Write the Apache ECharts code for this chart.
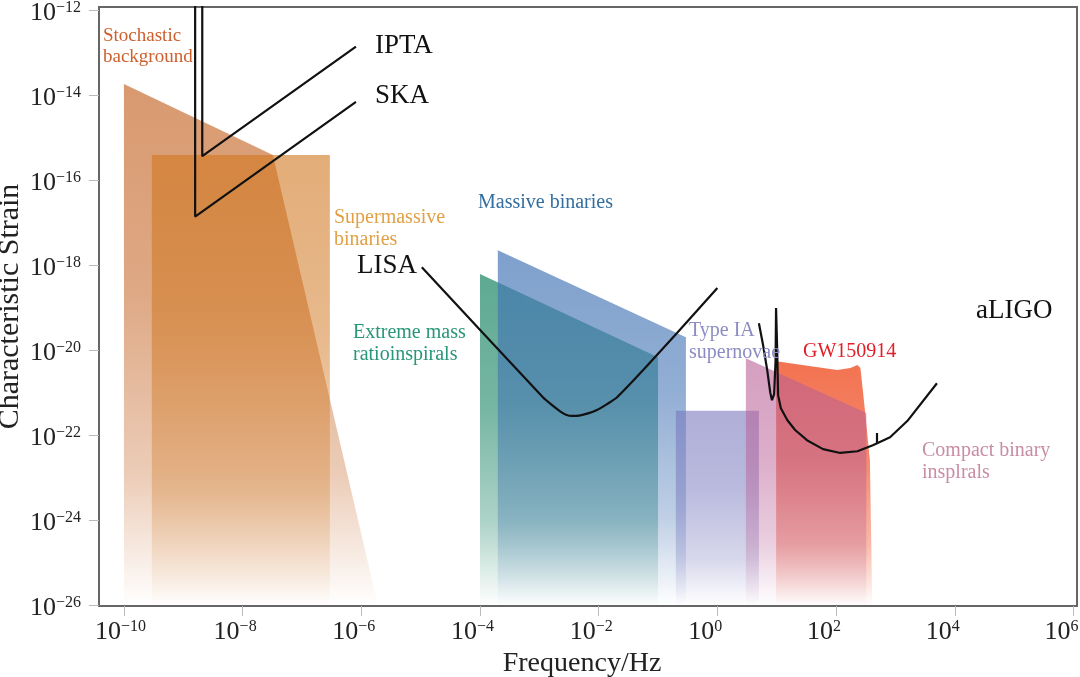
<!DOCTYPE html>
<html>
<head>
<meta charset="utf-8">
<script src="https://cdn.jsdelivr.net/npm/echarts@6.0.0/dist/echarts.min.js"></script>
<style>
html,body{margin:0;padding:0;background:#fff;}
#chart{width:1080px;height:677px;}
</style>
</head>
<body>
<div id="chart"></div>
<script>
// ---- data (log10 of frequency in Hz, log10 of characteristic strain) ----
const xTicks = [-10, -8, -6, -4, -2, 0, 2, 4, 6];
const yTicks = [-26, -24, -22, -20, -18, -16, -14, -12];

const stochastic = [[-10, -13.74], [-7.49, -15.41], [-5.72, -26]];
const supermassive = [[-9.53, -15.41], [-6.53, -15.41]];
const emri = [[-4.0, -18.21], [-1.0, -20.17]];
const massiveBinaries = [[-3.70, -17.65], [-0.53, -19.70]];
const typeIA = [[-0.70, -21.43], [0.70, -21.43]];
const compactBinary = [[0.48, -20.19], [2.51, -21.48]];
const gw150914 = [[0.99, -20.26], [2.02, -20.47], [2.24, -20.42], [2.36, -20.35], [2.41, -20.42],
                  [2.46, -21.06], [2.52, -21.88], [2.57, -22.59], [2.61, -26]];

const ipta = [[-8.68, -11.5], [-8.68, -15.44], [-6.09, -12.86]];
const ska = [[-8.80, -11.5], [-8.80, -16.86], [-6.09, -14.16]];
const lisa = [[-4.98, -18.05], [-2.94, -21.11], [-2.79, -21.29], [-2.65, -21.44], [-2.55, -21.52],
              [-2.45, -21.55], [-2.33, -21.54], [-2.18, -21.49], [-2.03, -21.41], [-1.86, -21.27],
              [-1.69, -21.11], [-1.25, -20.47], [-0.68, -19.60], [0.0, -18.54]];
const aligo = [[0.70, -19.37], [0.77, -19.88], [0.84, -20.47], [0.89, -20.99], [0.92, -21.18],
               [0.956, -21.04], [0.981, -20.24], [0.989, -19.01], [1.006, -19.88], [1.023, -21.06],
               [1.07, -21.37], [1.18, -21.65], [1.31, -21.88], [1.51, -22.12], [1.78, -22.33],
               [2.07, -22.42], [2.36, -22.38], [2.62, -22.24], [2.91, -22.05], [3.20, -21.67],
               [3.70, -20.78]];
const aligoMark = [[2.69, -21.95], [2.69, -22.20]];

const labelTexts = {
  stochastic: 'Stochastic\nbackground',
  supermassive: 'Supermassive\nbinaries',
  massive: 'Massive binaries',
  emri: 'Extreme mass\nratioinspirals',
  typeIA: 'Type IA\nsupernovae',
  gw: 'GW150914',
  compact: 'Compact binary\ninsplrals',
  aligo: 'aLIGO', ipta: 'IPTA', ska: 'SKA', lisa: 'LISA'
};

// ---- chart ----
const SERIF = '"Liberation Serif", "DejaVu Serif", serif';
const chart = echarts.init(document.getElementById('chart'), null, {renderer: 'canvas'});

const measureCtx = document.createElement('canvas').getContext('2d');
function textW(t, size) { measureCtx.font = size + 'px "Liberation Serif"'; return measureCtx.measureText(t).width; }
function supText(v) { return v < 0 ? '\u2212' + Math.abs(v) : String(v); }
// trailing pad so that the end of "10" sits just left of the tick
function padFor(v) { return Math.max(0, Math.round(textW('10', 26) + 6 - textW(supText(v), 16))); }

function fade(r, g, b, a) {
  return {
    type: 'linear', x: 0, y: 0, x2: 0, y2: 1,
    colorStops: [
      {offset: 0, color: `rgba(${r},${g},${b},${a})`},
      {offset: 0.4, color: `rgba(${r},${g},${b},${a * 0.85})`},
      {offset: 0.75, color: `rgba(${r},${g},${b},${a * 0.5})`},
      {offset: 1, color: `rgba(${r},${g},${b},0)`}
    ]
  };
}
function area(name, data, fill, z) {
  return {
    name, type: 'line', data, symbol: 'none', z, silent: true,
    lineStyle: {width: 0, opacity: 0},
    areaStyle: {origin: 'start', color: fill, opacity: 1}
  };
}
function curve(name, data, smooth) {
  return {
    name, type: 'line', data, symbol: 'none', z: 10, silent: true, smooth: smooth || false,
    lineStyle: {color: '#111', width: 2.2}
  };
}
const baseRich = {
  b: {fontFamily: SERIF, fontSize: 26, color: '#222', lineHeight: 26},
  s: {fontFamily: SERIF, fontSize: 16, color: '#222', lineHeight: 18, verticalAlign: 'top'}
};
const xRich = Object.assign({}, baseRich);
xTicks.forEach(v => { xRich['p' + padFor(v)] = {width: padFor(v), lineHeight: 26}; });

function yLabel(v) { return '{b|10}{s|' + supText(v) + '}'; }
function xLabel(v) { return '{b|10}{s|' + supText(v) + '}{p' + padFor(v) + '|}'; }

function txt(x, y, text, color, size) {
  return {
    type: 'text', x, y, z: 100, silent: true,
    style: {text, fill: color, font: `${size}px ${SERIF}`, textAlign: 'left',
            textVerticalAlign: 'top', lineHeight: Math.round(size * 1.1)}
  };
}

const option = {
  animation: false,
  backgroundColor: '#fff',
  grid: {left: 99, top: 7, width: 978, height: 599, show: true, borderColor: '#666', borderWidth: 2,
         backgroundColor: 'transparent', containLabel: false, outerBoundsMode: 'none'},
  xAxis: {
    type: 'value', min: -10.42, max: 6.06,
    name: 'Frequency/Hz', nameLocation: 'middle', nameGap: 41,
    nameTextStyle: {fontFamily: SERIF, fontSize: 28, color: '#222', padding: [0, 12, 0, 0]},
    axisLine: {show: true, onZero: false, lineStyle: {color: '#666', width: 2}},
    axisTick: {show: true, customValues: xTicks, length: 10, lineStyle: {color: '#bbb', width: 1}},
    axisLabel: {customValues: xTicks, margin: 13, formatter: xLabel, rich: xRich},
    splitLine: {show: false}
  },
  yAxis: {
    type: 'value', min: -26.02, max: -11.93,
    name: 'Characteristic Strain', nameLocation: 'middle', nameGap: 74, nameMoveOverlap: false,
    nameTextStyle: {fontFamily: SERIF, fontSize: 30, color: '#222'},
    axisLine: {show: true, onZero: false, lineStyle: {color: '#666', width: 2}},
    axisTick: {show: true, customValues: yTicks, length: 10, lineStyle: {color: '#bbb', width: 1}},
    axisLabel: {customValues: yTicks, margin: 18, formatter: yLabel, rich: baseRich, padding: [6, 0, 0, 0]},
    splitLine: {show: false}
  },
  series: [
    area('Stochastic background', stochastic, fade(200, 110, 50, 0.7), 1),
    area('Supermassive binaries', supermassive, fade(208, 118, 30, 0.6), 2),
    area('Extreme mass ratio inspirals', emri, fade(40, 140, 110, 0.75), 3),
    area('Massive binaries', massiveBinaries, fade(65, 115, 180, 0.68), 4),
    area('Type IA supernovae', typeIA, fade(120, 120, 190, 0.6), 5),
    area('GW150914', gw150914, fade(240, 90, 50, 0.85), 6),
    area('Compact binary inspirals', compactBinary, fade(185, 95, 150, 0.6), 7),
    curve('IPTA', ipta),
    curve('SKA', ska),
    curve('LISA', lisa, 0.2),
    curve('aLIGO', aligo),
    curve('aLIGO mark', aligoMark)
  ],
  graphic: [
    txt(103, 26, labelTexts.stochastic, 'rgb(205,95,45)', 19),
    txt(334, 207, labelTexts.supermassive, 'rgb(225,160,70)', 20),
    txt(478, 192, labelTexts.massive, 'rgb(50,110,160)', 20),
    txt(353, 322, labelTexts.emri, 'rgb(40,150,120)', 20),
    txt(689, 320, labelTexts.typeIA, 'rgb(140,140,195)', 20),
    txt(803, 341, labelTexts.gw, 'rgb(225,30,40)', 20),
    txt(922, 440, labelTexts.compact, 'rgb(200,140,165)', 20),
    txt(976, 296, labelTexts.aligo, '#111', 27),
    txt(375, 31, labelTexts.ipta, '#111', 27),
    txt(375, 81, labelTexts.ska, '#111', 27),
    txt(357, 251, labelTexts.lisa, '#111', 27)
  ]
};
chart.setOption(option);
</script>
</body>
</html>
